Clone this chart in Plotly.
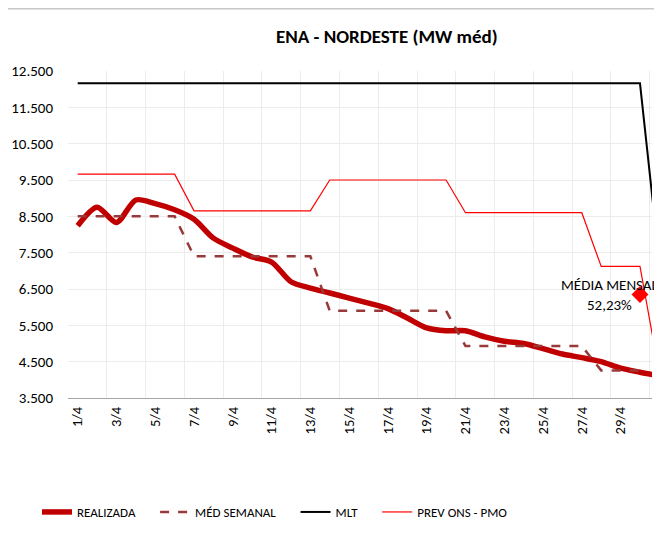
import plotly.graph_objects as go

days = list(range(1, 32))
tick_days = list(range(1, 30, 2))
tick_labels = [f"{d}/4" for d in tick_days]

realizada = [8240, 8750, 8330, 8950, 8850, 8680, 8420, 7900, 7625, 7380, 7240,
             6700, 6525, 6390, 6250, 6110, 5960, 5700, 5430, 5350, 5350, 5180,
             5060, 5000, 4860, 4710, 4610, 4500, 4320, 4210, 4110]
med_semanal = [8500] * 6 + [7400] * 7 + [5900] * 7 + [4930] * 7 + [4260] * 3
mlt = [12160] * 30 + [7230]
prev_ons = [9660] * 6 + [8650] * 7 + [9500] * 7 + [8600] * 7 + [7120] * 3 + [4170]

media_day = [30]
media_val = [6350]
media_label = "MÉDIA MENSAL<br>52,23%"

series_names = ["REALIZADA", "MÉD SEMANAL", "MLT", "PREV ONS - PMO"]

FONT = "Carlito, Lato, sans-serif"
# the page body adds an 8 px offset; margins below compensate for it
OFF = 8
PAD = "\u00a0" * 5  # extra spacing between legend entries

fig = go.Figure()
fig.add_trace(go.Scatter(x=days, y=realizada, name=series_names[0] + PAD, mode="lines",
                         line=dict(color="#c00000", width=5.5, shape="spline", smoothing=0.8)))
fig.add_trace(go.Scatter(x=days[:len(med_semanal)], y=med_semanal, name=series_names[1] + PAD, mode="lines",
                         line=dict(color="#993a3a", width=2.5, dash="dash")))
fig.add_trace(go.Scatter(x=days, y=mlt, name=series_names[2] + PAD, mode="lines",
                         line=dict(color="#000000", width=2)))
fig.add_trace(go.Scatter(x=days, y=prev_ons, name=series_names[3], mode="lines",
                         line=dict(color="#ff0000", width=1.2)))
fig.add_trace(go.Scatter(x=media_day, y=media_val, mode="markers", showlegend=False,
                         marker=dict(symbol="diamond", color="#ff0000", size=13)))
fig.add_annotation(x=media_day[0], y=media_val[0], text=media_label, showarrow=False,
                   xshift=-30, yshift=-1, align="center", font=dict(family=FONT, size=15, color="#000"))

fig.add_shape(type="rect", xref="paper", yref="paper", x0=-0.3, x1=1.3, y0=-0.7, y1=1.19,
              line=dict(color="#c8c8c8", width=1.5), layer="below")

fig.update_layout(
    width=662, height=542,
    margin=dict(l=68 - OFF, r=10 + OFF, t=71 - OFF, b=144 + OFF, autoexpand=False),
    paper_bgcolor="white", plot_bgcolor="white",
    separators=",.",
    font=dict(family=FONT, size=13, color="#000"),
    title=dict(text="<b>ENA - NORDESTE (MW méd)</b>", x=0.546, xref="paper", xanchor="center",
               y=1 - (36 - OFF) / 542, yanchor="middle", font=dict(family=FONT, size=19, color="#000")),
    showlegend=True,
    legend=dict(orientation="h", xref="container", yref="container", x=(37 - OFF) / 662, xanchor="left",
                y=1 - (512 - OFF) / 542, yanchor="middle",
                font=dict(family=FONT, size=13), itemwidth=30, tracegroupgap=0),
    xaxis=dict(range=[0.5, 30.62], tickmode="array", tickvals=tick_days, ticktext=tick_labels,
               tickangle=-90, showgrid=False, zeroline=False, showline=True, linecolor="#a6a6a6",
               linewidth=1, ticks="", tickfont=dict(family=FONT, size=14.5), automargin=False,
               ticklabelstandoff=2,
               minor=dict(tick0=0.5, dtick=2, showgrid=True, gridcolor="#ececec", gridwidth=1)),
    yaxis=dict(range=[3500, 12500], tick0=3500, dtick=1000, tickformat=",.0f",
               showgrid=True, gridcolor="#ececec", zeroline=False, showline=False, ticks="",
               automargin=False, ticklabelstandoff=14, tickfont=dict(family=FONT, size=15)),
)

fig.write_html("out.html")
